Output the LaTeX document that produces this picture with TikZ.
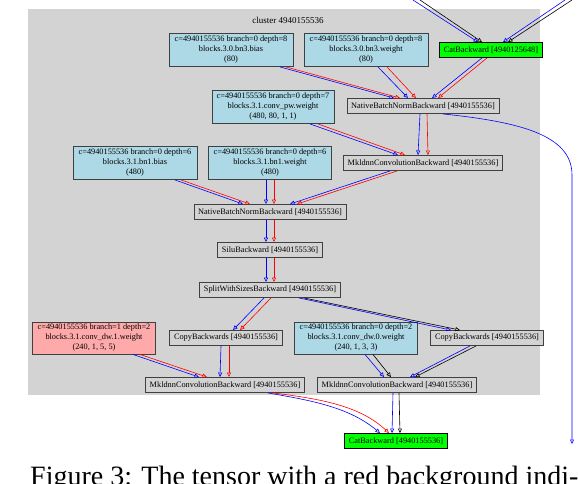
\documentclass[tikz,border=0pt]{standalone}
\usepackage{fontspec}
\setmainfont{Liberation Serif}
\usetikzlibrary{arrows.meta}

\definecolor{clustergray}{RGB}{211,211,211}
\definecolor{parblue}{RGB}{173,216,230}
\definecolor{parred}{RGB}{255,170,170}
\definecolor{catgreen}{RGB}{0,255,0}
\newcommand\gvfont{\fontsize{8.3}{10}\selectfont}

\begin{document}
\begin{tikzpicture}[x=1pt, y=-1pt,
  param/.style={rectangle, draw=black!75, line width=0.9pt, fill=parblue, align=center,
    minimum width=124pt, minimum height=33pt, inner sep=0pt, font=\gvfont},
  gradop/.style={rectangle, draw=black!75, line width=0.9pt, fill=clustergray,
    minimum height=15pt, inner xsep=4.2pt, inner ysep=0pt, font=\gvfont},
  edge/.style={line width=0.6pt, -{Triangle[open, length=4.5pt, width=4pt]}}]

\useasboundingbox (0,0) rectangle (578,484);
\clip (0,0) rectangle (578,484);

\fill[clustergray] (28,9) rectangle (540,395);
\node[font=\fontsize{9}{11}\selectfont] (cluster) at (288,20) {cluster 4940155536};


\node[param] (bnbias) at (231,50) {c=4940155536 branch=0 depth=8\\blocks.3.0.bn3.bias\\(80)};
\node[param] (bnweight) at (366,50) {c=4940155536 branch=0 depth=8\\blocks.3.0.bn3.weight\\(80)};
\node[gradop, fill=catgreen, draw=black] (catA) at (491,50) {CatBackward [4940125648]};
\node[gradop] (nbnA) at (423,106) {NativeBatchNormBackward [4940155536]};
\node[param, minimum width=122pt] (convpw) at (273,107) {c=4940155536 branch=0 depth=7\\blocks.3.1.conv\_pw.weight\\(480, 80, 1, 1)};
\node[gradop] (mklA) at (423,163) {MkldnnConvolutionBackward [4940155536]};

\node[param] (bnonebias) at (135,163) {c=4940155536 branch=0 depth=6\\blocks.3.1.bn1.bias\\(480)};
\node[param, minimum width=123pt] (bnoneweight) at (270,163) {c=4940155536 branch=0 depth=6\\blocks.3.1.bn1.weight\\(480)};
\node[gradop] (nbnB) at (270,212) {NativeBatchNormBackward [4940155536]};
\node[gradop] (silu) at (270,250) {SiluBackward [4940155536]};
\node[gradop] (split) at (270,290) {SplitWithSizesBackward [4940155536]};

\node[param, fill=parred, minimum width=123pt, minimum height=32pt] (dwone) at (94,338) {c=4940155536 branch=1 depth=2\\blocks.3.1.conv\_dw.1.weight\\(240, 1, 5, 5)};
\node[gradop] (copyL) at (226,338) {CopyBackwards [4940155536]};
\node[param, minimum width=123pt, minimum height=32pt] (dwzero) at (356,338) {c=4940155536 branch=0 depth=2\\blocks.3.1.conv\_dw.0.weight\\(240, 1, 3, 3)};
\node[gradop] (copyR) at (487,338) {CopyBackwards [4940155536]};

\node[gradop] (mklL) at (225,385) {MkldnnConvolutionBackward [4940155536]};
\node[gradop] (mklR) at (397,385) {MkldnnConvolutionBackward [4940155536]};
\node[gradop, fill=catgreen, draw=black] (catB) at (396,441) {CatBackward [4940155536]};


\coordinate (inBL) at (413,0);
\coordinate (inKL) at (420,0);
\coordinate (inBR) at (565,0);
\coordinate (inKR) at (572,0);
\coordinate (outR) at (572,444);

\draw[edge, blue] (inBL) -- ([xshift=-13pt]catA.north);
\draw[edge, black] (inKL) -- ([xshift=-9pt]catA.north);
\draw[edge, blue] (inBR) -- ([xshift=12pt]catA.north);
\draw[edge, black] (inKR) -- ([xshift=17pt]catA.north);

\foreach \a/\sa/\b/\sb/\c in {
  bnbias/49/nbnA/-29/blue, bnbias/55/nbnA/-23/red,
  bnweight/12/nbnA/-15/blue, bnweight/21/nbnA/-7/red,
  catA/-9/nbnA/9/blue, catA/-4/nbnA/15/red,
  nbnA/-3/mklA/-5/blue, nbnA/4/mklA/5/red,
  convpw/37/mklA/-25/blue, convpw/45/mklA/-18/red,
  mklA/-33/nbnB/20/blue, mklA/-26/nbnB/27/red,
  bnonebias/40/nbnB/-27/blue, bnonebias/46/nbnB/-20/red,
  bnoneweight/-4/nbnB/-4/blue, bnoneweight/4/nbnB/4/red,
  nbnB/-4/silu/-4/blue, nbnB/4/silu/4/red,
  silu/-4/split/-4/blue, silu/4/split/4/red,
  split/-6/copyL/7/blue, split/1/copyL/14/red,
  split/29/copyR/-36/blue, split/34/copyR/-27/black,
  dwone/39/mklL/-26/blue, dwone/46/mklL/-18/red,
  copyL/-5/mklL/-5/blue, copyL/3/mklL/4/red,
  dwzero/9/mklR/-13/blue, dwzero/17/mklR/-6/black,
  copyR/-17/mklR/13/blue, copyR/-11/mklR/18/black,
  mklR/-4/catB/-4/blue, mklR/2/catB/4/black}
  \draw[edge, \c] ([xshift=\sa pt]\a.south) -- ([xshift=\sb pt]\b.north);

\draw[edge, blue] ([xshift=43pt]mklL.south) .. controls (315,401) and (350,408) .. ([xshift=-16pt]catB.north);
\draw[edge, red] ([xshift=48pt]mklL.south) .. controls (322,399) and (360,406) .. ([xshift=-7pt]catB.north);
\draw[edge, blue] ([xshift=20pt]nbnA.south) .. controls (520,122) and (572,135) .. (572,175) -- (outR);

\node[anchor=base west, inner sep=0pt, font=\fontsize{28}{32}\selectfont] (caption) at (30,485) {Figure 3: The tensor with a red background indi-};

\end{tikzpicture}
\end{document}
